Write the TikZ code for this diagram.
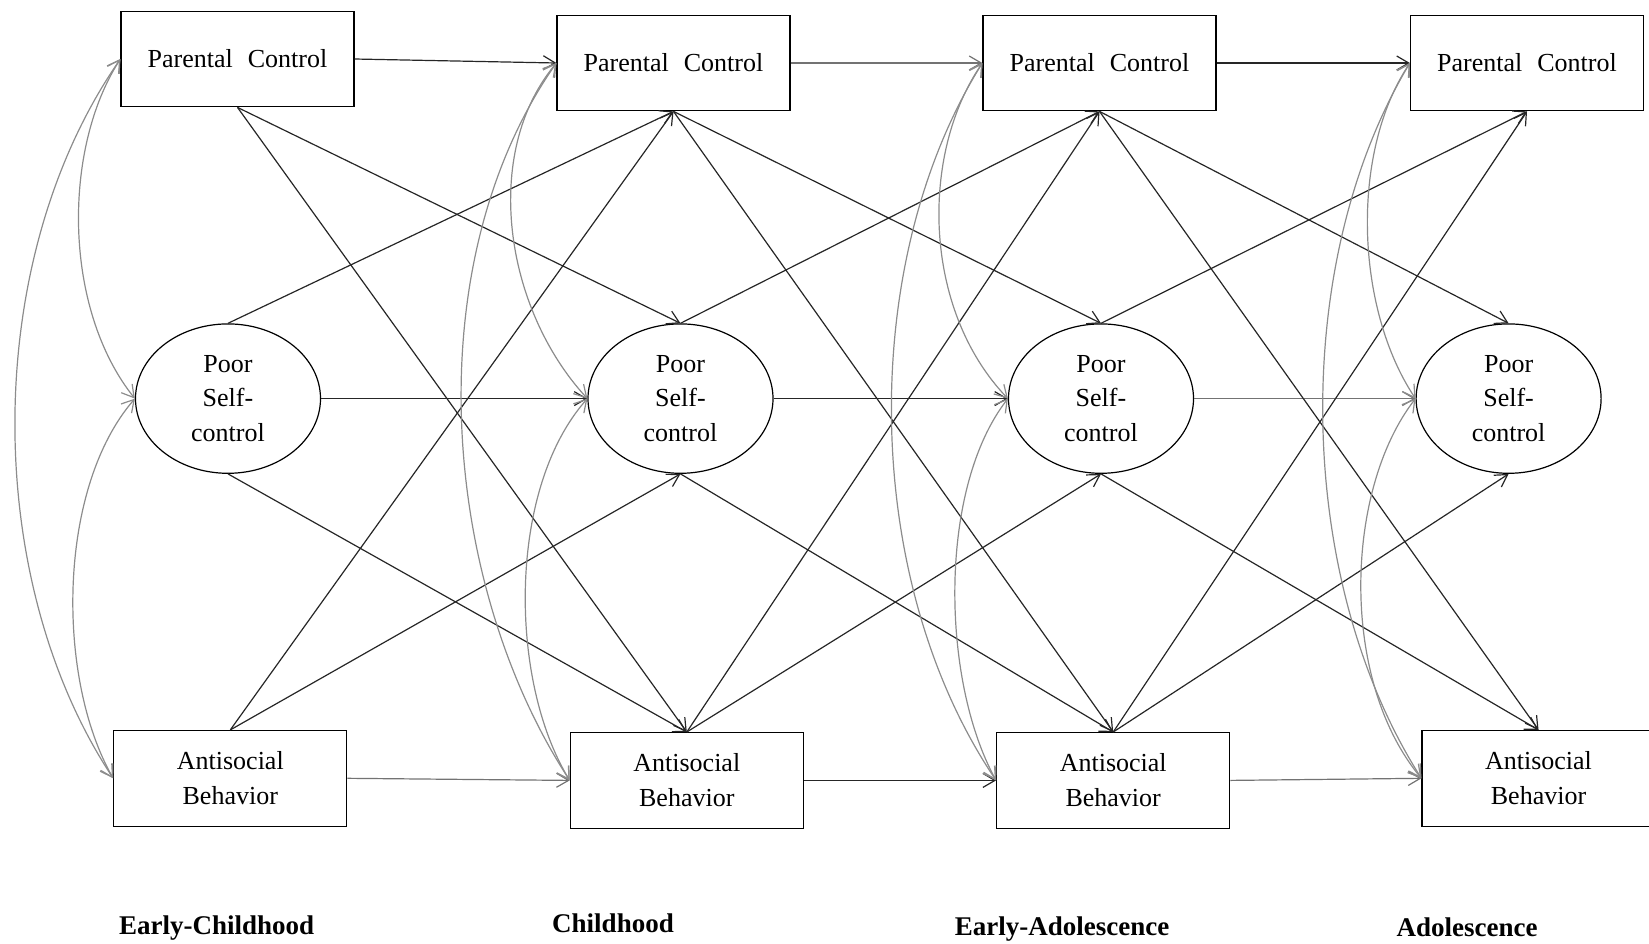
\documentclass[tikz,border=0pt]{standalone}
\usepackage{fontspec}
\setmainfont{Liberation Serif}
\usetikzlibrary{arrows.meta,shapes.geometric}

\begin{document}
\begin{tikzpicture}[x=0.5pt,y=-0.5pt,
  txt/.style={font=\fontsize{13}{17.4}\selectfont},
  box/.style={txt,draw=black,line width=0.6pt,rectangle,minimum width=116.5pt,
    minimum height=47.8pt,inner sep=0pt,align=center},
  oval/.style={txt,draw=black,line width=0.6pt,ellipse,minimum width=92.5pt,
    minimum height=74.7pt,inner sep=0pt,align=center},
  tip/.tip={Straight Barb[length=6pt,width=7pt]},
  effect/.style={draw=black!85,line width=0.6pt,-tip},
  effectgray/.style={draw=black!55,line width=0.6pt,-tip},
  corr/.style={draw=black!45,line width=0.6pt,tip-tip},
  period/.style={font=\fontsize{13.5}{16}\selectfont\bfseries}
]
\useasboundingbox (0,0) rectangle (1649,943);

% Parental control (top row)
\node[box] (pc1) at (237.5,59)  {Parental\hspace{7.5pt}Control};
\node[box] (pc2) at (673.5,63)  {Parental\hspace{7.5pt}Control};
\node[box] (pc3) at (1099.5,63) {Parental\hspace{7.5pt}Control};
\node[box] (pc4) at (1527,63)   {Parental\hspace{7.5pt}Control};

% Poor self-control (middle row)
\node[oval] (sc1) at (228,398.6)  {Poor\\Self-\\control};
\node[oval] (sc2) at (680.5,398.6) {Poor\\Self-\\control};
\node[oval] (sc3) at (1101,398.6)  {Poor\\Self-\\control};
\node[oval] (sc4) at (1508.6,398.6) {Poor\\Self-\\control};

% Antisocial behavior (bottom row)
\node[box] (ab1) at (230.3,778.3)  {Antisocial\\Behavior};
\node[box] (ab2) at (686.8,780.4)  {Antisocial\\Behavior};
\node[box] (ab3) at (1113.2,780.4) {Antisocial\\Behavior};
\node[box] (ab4) at (1538.5,778.3) {Antisocial\\Behavior};

% Developmental periods
\node[period] (t1) at (216.6,927.6) {Early-Childhood};
\node[period] (t2) at (613,923.4)   {Childhood};
\node[period] (t3) at (1062,928.7)  {Early-Adolescence};
\node[period] (t4) at (1467,927.6)  {Adolescence};

% Autoregressive paths
\draw[effect]     (pc1.east) -- (pc2.west);
\draw[effectgray] (pc2.east) -- (pc3.west);
\draw[effect]     (pc3.east) -- (pc4.west);
\draw[effect]     (sc1.east) -- (sc2.west);
\draw[effect]     (sc2.east) -- (sc3.west);
\draw[effectgray] (sc3.east) -- (sc4.west);
\draw[effectgray] (ab1.east) -- (ab2.west);
\draw[effect]     (ab2.east) -- (ab3.west);
\draw[effectgray] (ab3.east) -- (ab4.west);

% Cross-lagged paths
\foreach \a/\b in {1/2,2/3,3/4}{
  \draw[effect] (pc\a.south) -- (sc\b.north);
  \draw[effect] (pc\a.south) -- (ab\b.north);
  \draw[effect] (sc\a.north) -- (pc\b.south);
  \draw[effect] (sc\a.south) -- (ab\b.north);
  \draw[effect] (ab\a.north) -- (pc\b.south);
  \draw[effect] (ab\a.north) -- (sc\b.south);
}

% Within-time correlations
\draw[corr] (pc1.west) .. controls +(-139,200) and +(-132,-200) .. (ab1.west);
\draw[corr] (pc1.west) .. controls +(-58,90) and +(-72,-90) .. (sc1.west);
\draw[corr] (sc1.west) .. controls +(-78,90) and +(-57,-100) .. (ab1.west);

\draw[corr] (pc2.west) .. controls +(-140,200) and +(-130,-200) .. (ab2.west);
\draw[corr] (pc2.west) .. controls +(-75,90) and +(-83,-90) .. (sc2.west);
\draw[corr] (sc2.west) .. controls +(-80,90) and +(-61,-100) .. (ab2.west);

\draw[corr] (pc3.west) .. controls +(-125,200) and +(-135,-200) .. (ab3.west);
\draw[corr] (pc3.west) .. controls +(-62,90) and +(-86,-90) .. (sc3.west);
\draw[corr] (sc3.west) .. controls +(-70,90) and +(-55,-100) .. (ab3.west);

\draw[corr] (pc4.west) .. controls +(-120,200) and +(-127,-200) .. (ab4.west);
\draw[corr] (pc4.west) .. controls +(-60,90) and +(-60,-90) .. (sc4.west);
\draw[corr] (sc4.west) .. controls +(-70,90) and +(-83,-100) .. (ab4.west);
\end{tikzpicture}
\end{document}
